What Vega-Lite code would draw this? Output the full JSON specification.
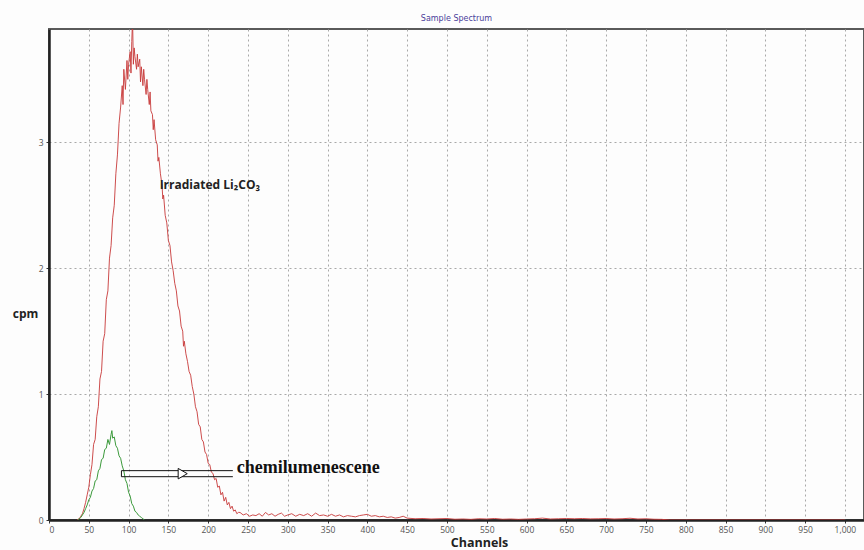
{
  "$schema": "https://vega.github.io/schema/vega-lite/v6.json",
  "width": 815,
  "height": 491,
  "autosize": {"type": "none"},
  "padding": {"left": 49, "top": 29, "right": 0, "bottom": 30},
  "background": "#fdfdfd",
  "title": {"text": "Sample Spectrum", "fontSize": 8, "font": "DejaVu Sans", "fontWeight": "normal", "color": "#4a3d9a", "anchor": "middle", "offset": 6},
  "config": {
    "view": {"stroke": "#5a5a5a", "strokeWidth": 2},
    "axis": {"labelFont": "Open Sans", "labelFontSize": 8.5, "labelColor": "#555", "gridColor": "#a8a8a8", "gridDash": [2, 3], "gridWidth": 1, "domainColor": "#222", "domainWidth": 2.5, "tickColor": "#333", "tickSize": 3}
  },
  "datasets": {
    "red": [
      {"ch": 35, "cpm": 0}, {"ch": 38, "cpm": 0.01}, {"ch": 40, "cpm": 0.03}, {"ch": 42, "cpm": 0.05}, {"ch": 44, "cpm": 0.09}, {"ch": 46, "cpm": 0.14}, {"ch": 48, "cpm": 0.2}, {"ch": 50, "cpm": 0.26}, {"ch": 52, "cpm": 0.36}, {"ch": 54, "cpm": 0.44}, {"ch": 56, "cpm": 0.6}, {"ch": 58, "cpm": 0.64}, {"ch": 60, "cpm": 0.82}, {"ch": 62, "cpm": 0.9}, {"ch": 64, "cpm": 1.12}, {"ch": 66, "cpm": 1.18}, {"ch": 68, "cpm": 1.42}, {"ch": 70, "cpm": 1.48}, {"ch": 72, "cpm": 1.75}, {"ch": 74, "cpm": 1.82}, {"ch": 76, "cpm": 2.08}, {"ch": 78, "cpm": 2.18}, {"ch": 80, "cpm": 2.4}, {"ch": 82, "cpm": 2.5}, {"ch": 84, "cpm": 2.75}, {"ch": 86, "cpm": 2.9}, {"ch": 88, "cpm": 3.15}, {"ch": 90, "cpm": 3.28}, {"ch": 92, "cpm": 3.45}, {"ch": 93, "cpm": 3.3}, {"ch": 94, "cpm": 3.58}, {"ch": 96, "cpm": 3.42}, {"ch": 98, "cpm": 3.65}, {"ch": 99, "cpm": 3.5}, {"ch": 100, "cpm": 3.62}, {"ch": 102, "cpm": 3.72}, {"ch": 103, "cpm": 3.55}, {"ch": 104, "cpm": 3.8}, {"ch": 105, "cpm": 3.98}, {"ch": 106, "cpm": 3.62}, {"ch": 107, "cpm": 3.75}, {"ch": 108, "cpm": 3.68}, {"ch": 110, "cpm": 3.58}, {"ch": 111, "cpm": 3.7}, {"ch": 112, "cpm": 3.6}, {"ch": 114, "cpm": 3.66}, {"ch": 115, "cpm": 3.48}, {"ch": 116, "cpm": 3.6}, {"ch": 118, "cpm": 3.45}, {"ch": 119, "cpm": 3.58}, {"ch": 120, "cpm": 3.5}, {"ch": 122, "cpm": 3.38}, {"ch": 123, "cpm": 3.5}, {"ch": 124, "cpm": 3.42}, {"ch": 126, "cpm": 3.3}, {"ch": 127, "cpm": 3.4}, {"ch": 128, "cpm": 3.25}, {"ch": 130, "cpm": 3.22}, {"ch": 131, "cpm": 3.1}, {"ch": 132, "cpm": 3.18}, {"ch": 134, "cpm": 3.02}, {"ch": 136, "cpm": 2.98}, {"ch": 137, "cpm": 2.85}, {"ch": 138, "cpm": 2.88}, {"ch": 140, "cpm": 2.75}, {"ch": 142, "cpm": 2.66}, {"ch": 143, "cpm": 2.55}, {"ch": 144, "cpm": 2.58}, {"ch": 146, "cpm": 2.42}, {"ch": 148, "cpm": 2.36}, {"ch": 150, "cpm": 2.22}, {"ch": 152, "cpm": 2.18}, {"ch": 154, "cpm": 2.05}, {"ch": 156, "cpm": 1.98}, {"ch": 158, "cpm": 1.88}, {"ch": 160, "cpm": 1.82}, {"ch": 162, "cpm": 1.7}, {"ch": 164, "cpm": 1.66}, {"ch": 166, "cpm": 1.54}, {"ch": 168, "cpm": 1.5}, {"ch": 169, "cpm": 1.38}, {"ch": 170, "cpm": 1.42}, {"ch": 172, "cpm": 1.32}, {"ch": 174, "cpm": 1.26}, {"ch": 176, "cpm": 1.18}, {"ch": 178, "cpm": 1.15}, {"ch": 180, "cpm": 1.06}, {"ch": 182, "cpm": 1.0}, {"ch": 184, "cpm": 0.9}, {"ch": 186, "cpm": 0.86}, {"ch": 188, "cpm": 0.76}, {"ch": 190, "cpm": 0.74}, {"ch": 192, "cpm": 0.64}, {"ch": 194, "cpm": 0.62}, {"ch": 196, "cpm": 0.54}, {"ch": 198, "cpm": 0.52}, {"ch": 200, "cpm": 0.45}, {"ch": 202, "cpm": 0.44}, {"ch": 204, "cpm": 0.38}, {"ch": 206, "cpm": 0.37}, {"ch": 208, "cpm": 0.32}, {"ch": 210, "cpm": 0.33}, {"ch": 212, "cpm": 0.26}, {"ch": 214, "cpm": 0.27}, {"ch": 216, "cpm": 0.2}, {"ch": 218, "cpm": 0.22}, {"ch": 220, "cpm": 0.15}, {"ch": 222, "cpm": 0.18}, {"ch": 224, "cpm": 0.12}, {"ch": 226, "cpm": 0.14}, {"ch": 228, "cpm": 0.09}, {"ch": 230, "cpm": 0.11}, {"ch": 232, "cpm": 0.07}, {"ch": 234, "cpm": 0.08}, {"ch": 236, "cpm": 0.05}, {"ch": 238, "cpm": 0.06},
      {"ch": 240, "cpm": 0.06}, {"ch": 244, "cpm": 0.04}, {"ch": 248, "cpm": 0.05}, {"ch": 252, "cpm": 0.03}, {"ch": 256, "cpm": 0.04}, {"ch": 260, "cpm": 0.035}, {"ch": 264, "cpm": 0.05}, {"ch": 268, "cpm": 0.03}, {"ch": 272, "cpm": 0.06}, {"ch": 276, "cpm": 0.04}, {"ch": 280, "cpm": 0.05}, {"ch": 284, "cpm": 0.03}, {"ch": 288, "cpm": 0.045}, {"ch": 292, "cpm": 0.055}, {"ch": 296, "cpm": 0.03}, {"ch": 300, "cpm": 0.04}, {"ch": 305, "cpm": 0.05}, {"ch": 310, "cpm": 0.03}, {"ch": 315, "cpm": 0.045}, {"ch": 320, "cpm": 0.035}, {"ch": 325, "cpm": 0.05}, {"ch": 330, "cpm": 0.03}, {"ch": 335, "cpm": 0.055}, {"ch": 340, "cpm": 0.035}, {"ch": 345, "cpm": 0.04}, {"ch": 350, "cpm": 0.03}, {"ch": 355, "cpm": 0.045}, {"ch": 360, "cpm": 0.03}, {"ch": 365, "cpm": 0.04}, {"ch": 370, "cpm": 0.025}, {"ch": 375, "cpm": 0.035}, {"ch": 380, "cpm": 0.03}, {"ch": 385, "cpm": 0.025}, {"ch": 390, "cpm": 0.035}, {"ch": 395, "cpm": 0.04}, {"ch": 400, "cpm": 0.045}, {"ch": 405, "cpm": 0.03}, {"ch": 410, "cpm": 0.035}, {"ch": 415, "cpm": 0.025}, {"ch": 420, "cpm": 0.03}, {"ch": 425, "cpm": 0.02}, {"ch": 430, "cpm": 0.025}, {"ch": 435, "cpm": 0.015}, {"ch": 440, "cpm": 0.02}, {"ch": 445, "cpm": 0.03}, {"ch": 450, "cpm": 0.015}, {"ch": 460, "cpm": 0.01}, {"ch": 470, "cpm": 0.012}, {"ch": 480, "cpm": 0.008}, {"ch": 490, "cpm": 0.01}, {"ch": 500, "cpm": 0.012}, {"ch": 510, "cpm": 0.006}, {"ch": 520, "cpm": 0.008}, {"ch": 530, "cpm": 0.005}, {"ch": 540, "cpm": 0.01}, {"ch": 550, "cpm": 0.008}, {"ch": 560, "cpm": 0.012}, {"ch": 570, "cpm": 0.006}, {"ch": 580, "cpm": 0.008}, {"ch": 590, "cpm": 0.005}, {"ch": 600, "cpm": 0.008}, {"ch": 610, "cpm": 0.01}, {"ch": 620, "cpm": 0.015}, {"ch": 630, "cpm": 0.008}, {"ch": 640, "cpm": 0.01}, {"ch": 650, "cpm": 0.012}, {"ch": 660, "cpm": 0.01}, {"ch": 670, "cpm": 0.012}, {"ch": 680, "cpm": 0.009}, {"ch": 690, "cpm": 0.01}, {"ch": 700, "cpm": 0.012}, {"ch": 710, "cpm": 0.008}, {"ch": 720, "cpm": 0.01}, {"ch": 730, "cpm": 0.014}, {"ch": 740, "cpm": 0.008}, {"ch": 750, "cpm": 0.01}, {"ch": 760, "cpm": 0.006}, {"ch": 770, "cpm": 0.005}, {"ch": 780, "cpm": 0}, {"ch": 1000, "cpm": 0}
    ],
    "green": [
      {"ch": 36, "cpm": 0}, {"ch": 38, "cpm": 0.01}, {"ch": 40, "cpm": 0.02}, {"ch": 42, "cpm": 0.04}, {"ch": 44, "cpm": 0.06}, {"ch": 46, "cpm": 0.09}, {"ch": 48, "cpm": 0.12}, {"ch": 50, "cpm": 0.16}, {"ch": 52, "cpm": 0.18}, {"ch": 54, "cpm": 0.23}, {"ch": 56, "cpm": 0.25}, {"ch": 58, "cpm": 0.31}, {"ch": 60, "cpm": 0.32}, {"ch": 62, "cpm": 0.39}, {"ch": 64, "cpm": 0.41}, {"ch": 66, "cpm": 0.48}, {"ch": 68, "cpm": 0.49}, {"ch": 70, "cpm": 0.56}, {"ch": 72, "cpm": 0.57}, {"ch": 74, "cpm": 0.64}, {"ch": 76, "cpm": 0.6}, {"ch": 78, "cpm": 0.68}, {"ch": 79, "cpm": 0.71}, {"ch": 80, "cpm": 0.65}, {"ch": 82, "cpm": 0.66}, {"ch": 84, "cpm": 0.59}, {"ch": 86, "cpm": 0.57}, {"ch": 88, "cpm": 0.51}, {"ch": 90, "cpm": 0.49}, {"ch": 92, "cpm": 0.43}, {"ch": 94, "cpm": 0.39}, {"ch": 96, "cpm": 0.32}, {"ch": 98, "cpm": 0.29}, {"ch": 100, "cpm": 0.22}, {"ch": 102, "cpm": 0.19}, {"ch": 104, "cpm": 0.13}, {"ch": 106, "cpm": 0.11}, {"ch": 108, "cpm": 0.07}, {"ch": 110, "cpm": 0.06}, {"ch": 112, "cpm": 0.04}, {"ch": 114, "cpm": 0.03}, {"ch": 116, "cpm": 0.02}, {"ch": 118, "cpm": 0.01}, {"ch": 120, "cpm": 0}
    ],
    "arrowLines": [
      {"ch": 91, "ch2": 231, "cpm": 0.392},
      {"ch": 91, "ch2": 231, "cpm": 0.344}
    ],
    "arrowCap": [
      {"ch": 91, "cpm": 0.344, "cpm2": 0.392}
    ],
    "arrowHead": [
      {"ch": 168, "cpm": 0.368}
    ],
    "labelLi": [
      {"ch": 139, "cpm": 2.66, "label": "Irradiated Li₂CO₃"}
    ],
    "labelChem": [
      {"ch": 236, "cpm": 0.41, "label": "chemilumenescene"}
    ]
  },
  "encoding": {
    "x": {
      "field": "ch", "type": "quantitative",
      "scale": {"domain": [0, 1024], "nice": false, "zero": false},
      "axis": {
        "title": "Channels", "values": [0, 50, 100, 150, 200, 250, 300, 350, 400, 450, 500, 550, 600, 650, 700, 750, 800, 850, 900, 950, 1000],
        "format": ",d", "labelPadding": 2, "grid": true,
        "titleFont": "Open Sans", "titleFontSize": 12.5, "titleFontWeight": "bold", "titleColor": "#222",
        "titleX": 430, "titleY": 22, "titleBaseline": "middle", "titleAlign": "center"
      }
    },
    "y": {
      "field": "cpm", "type": "quantitative",
      "scale": {"domain": [0, 3.9], "nice": false},
      "axis": {
        "title": "cpm", "values": [0, 1, 2, 3], "grid": true, "labelPadding": 3,
        "titleFont": "Open Sans", "titleFontSize": 12, "titleFontWeight": "bold", "titleColor": "#222",
        "titleAngle": 0, "titleX": -24, "titleY": 284, "titleAlign": "center", "titleBaseline": "middle"
      }
    }
  },
  "layer": [
    {
      "data": {"name": "red"},
      "mark": {"type": "line", "color": "#c83a3a", "strokeWidth": 1, "opacity": 0.9, "clip": true}
    },
    {
      "data": {"name": "green"},
      "mark": {"type": "line", "color": "#3c9a3c", "strokeWidth": 1, "clip": true}
    },
    {
      "data": {"name": "arrowLines"},
      "mark": {"type": "rule", "color": "#111", "strokeWidth": 1},
      "encoding": {"x2": {"field": "ch2"}}
    },
    {
      "data": {"name": "arrowCap"},
      "mark": {"type": "rule", "color": "#111", "strokeWidth": 1},
      "encoding": {"y2": {"field": "cpm2"}}
    },
    {
      "data": {"name": "arrowHead"},
      "mark": {"type": "point", "shape": "triangle-right", "size": 110, "filled": true, "fill": "#ffffff", "stroke": "#111", "strokeWidth": 1, "opacity": 1}
    },
    {
      "data": {"name": "labelLi"},
      "mark": {"type": "text", "align": "left", "baseline": "middle", "font": "Open Sans", "fontSize": 12, "fontWeight": "bold", "color": "#222"},
      "encoding": {"text": {"field": "label"}}
    },
    {
      "data": {"name": "labelChem"},
      "mark": {"type": "text", "align": "left", "baseline": "middle", "font": "Liberation Serif", "fontSize": 18, "fontWeight": "bold", "color": "#111"},
      "encoding": {"text": {"field": "label"}}
    }
  ]
}
